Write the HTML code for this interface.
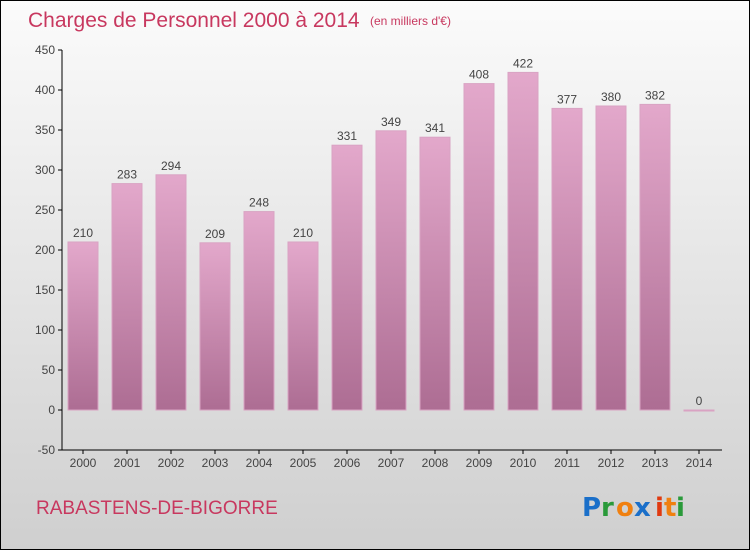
<!DOCTYPE html>
<html><head><meta charset="utf-8"><style>
body{margin:0}
#c{width:750px;height:550px;position:relative;background:linear-gradient(#fbfbfb,#cfcfcf);border:1px solid #000;box-sizing:border-box;overflow:hidden;font-family:"Liberation Sans",sans-serif}
</style></head><body>
<div id="c">
<svg id="s" width="750" height="550" style="position:absolute;left:-1px;top:-1px">
<defs><linearGradient id="g" x1="0" y1="0" x2="0" y2="1"><stop offset="0" stop-color="#e3a8cb"/><stop offset="1" stop-color="#ad6d93"/></linearGradient></defs>
<text x="28" y="27" font-size="21" fill="#c8385f">Charges de Personnel 2000 à 2014</text>
<text x="370" y="25" font-size="12" fill="#c8385f">(en milliers d'€)</text>
<text x="36" y="514" font-size="19" fill="#c8385f">RABASTENS-DE-BIGORRE</text>
<g font-size="26" font-family="'DejaVu Sans',sans-serif" font-weight="bold">
<text x="582" y="516" fill="#1a6fc9">P</text><text x="601" y="516" fill="#2a9a3a">r</text><text x="616" y="516" fill="#f08010">o</text><text x="634" y="516" fill="#1a6fc9">x</text><text x="655" y="516" fill="#e03a10">i</text><text x="664" y="516" fill="#f08010">t</text><text x="676" y="516" fill="#2a9a3a">i</text></g>
<g id="ax"></g><g id="bars"></g>
</svg></div>
<script>
const years=["2000","2001","2002","2003","2004","2005","2006","2007","2008","2009","2010","2011","2012","2013","2014"];
const values=[210,283,294,209,248,210,331,349,341,408,422,377,380,382,0];
const yTicks=[-50,0,50,100,150,200,250,300,350,400,450];
const NS="http://www.w3.org/2000/svg";
const y=v=>410-v*0.8, x=i=>83+44*i;
const ax=document.getElementById('ax'),bars=document.getElementById('bars');
function el(t,a,p){const e=document.createElementNS(NS,t);for(const k in a)e.setAttribute(k,a[k]);p.appendChild(e);return e;}
let l=el('line',{x1:62,y1:50,x2:62,y2:450,stroke:'#000'},ax);


l=el('line',{x1:62,y1:450,x2:722,y2:450,stroke:'#000'},ax);


yTicks.forEach(v=>{
 el('line',{x1:58,x2:62,y1:y(v),y2:y(v),stroke:'#000'},ax);
 const t=el('text',{x:55,y:y(v)+4,'text-anchor':'end','font-size':12,fill:'#444'},ax);t.textContent=v;
 
 
});
years.forEach((yr,i)=>{
 el('line',{x1:x(i),x2:x(i),y1:450,y2:454,stroke:'#000'},ax);
 const t=el('text',{x:x(i),y:467,'text-anchor':'middle','font-size':12,fill:'#444'},ax);t.textContent=yr;
 
 
 const v=values[i];
 const h=Math.max(v*0.8,1);
 const r=el('rect',{x:x(i)-15,y:y(v),width:30,height:h,fill:'url(#g)',stroke:'#d9a3c3','stroke-width':1},bars);
 
 
 const lb=el('text',{x:x(i),y:y(v)-5,'text-anchor':'middle','font-size':12,fill:'#444'},bars);lb.textContent=v;
 
 
});
</script></body></html>
